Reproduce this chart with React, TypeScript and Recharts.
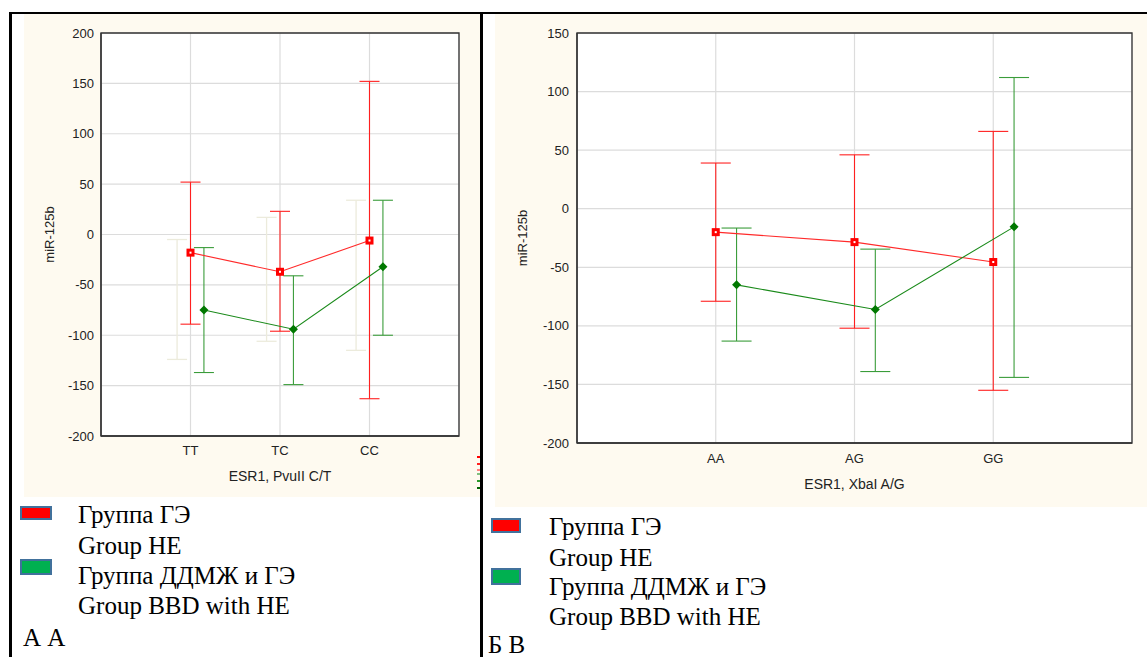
import React from 'react';
import {
  ScatterChart,
  Scatter,
  XAxis,
  YAxis,
  CartesianGrid,
  ErrorBar,
  ReferenceArea,
} from 'recharts';

// ---------- DATA ----------
const leftCategories = ['TT', 'TC', 'CC'];
const leftHEMean = [-18, -37, -6];
const leftHELow = [-89, -96, -163];
const leftHEHigh = [52, 23, 152];
const leftBBDMean = [-75, -94, -32];
const leftBBDLow = [-137, -149, -100];
const leftBBDHigh = [-13, -41, 34];
const leftExtraLow = [-124, -106, -115];
const leftExtraHigh = [-5, 17, 34];
const leftYTicks = [-200, -150, -100, -50, 0, 50, 100, 150, 200];

const rightCategories = ['AA', 'AG', 'GG'];
const rightHEMean = [-20, -28.5, -45.5];
const rightHELow = [-79, -102, -155];
const rightHEHigh = [39, 46, 66];
const rightBBDMean = [-65, -86, -15.5];
const rightBBDLow = [-113, -139, -144];
const rightBBDHigh = [-16.5, -34.5, 112];
const rightYTicks = [-200, -150, -100, -50, 0, 50, 100, 150];

const legendLabels = ['Группа ГЭ', 'Group HE', 'Группа ДДМЖ и ГЭ', 'Group BBD with HE'];

// ---------- STYLE ----------
const CREAM = '#fefaf0';
const SANS = "'Liberation Sans', Arial, sans-serif";
const SERIF = "'Liberation Serif', 'Times New Roman', 'DejaVu Serif', serif";
const RED_LINE = '#ff2a2a';
const RED_BAR = '#ff2020';
const GREEN_LINE = '#1a8a1a';
const GREEN_BAR = '#3a9c3a';
const SERIES_SHIFT = 0.15;

const build = (mean: number[], low: number[], high: number[], shift: number) =>
  mean.map((m, i) => ({ x: i + 1 + shift, y: m, err: [m - low[i], high[i] - m] }));

const buildRange = (low: number[], high: number[], shift: number) =>
  low.map((l, i) => {
    const c = (l + high[i]) / 2;
    return { x: i + 1 + shift, y: c, err: [c - l, high[i] - c] };
  });

const RedSquare = (p: any) => {
  const { cx, cy } = p;
  if (cx == null || cy == null) return null;
  return (
    <g>
      <rect x={cx - 4} y={cy - 4} width={8} height={8} fill="#ff0000" />
      <rect x={cx - 1} y={cy - 1} width={2} height={2} fill="#ffffff" />
    </g>
  );
};

const GreenDiamond = (p: any) => {
  const { cx, cy } = p;
  if (cx == null || cy == null) return null;
  return (
    <polygon
      points={`${cx},${cy - 4.5} ${cx + 4.5},${cy} ${cx},${cy + 4.5} ${cx - 4.5},${cy}`}
      fill="#007800"
    />
  );
};

const NoShape = () => <g />;

interface PanelProps {
  cats: string[];
  he: { x: number; y: number; err: number[] }[];
  bbd: { x: number; y: number; err: number[] }[];
  extra?: { x: number; y: number; err: number[] }[];
  yTicks: number[];
  width: number;
  height: number;
  yAxisWidth: number;
  xAxisHeight: number;
  marginTop: number;
  marginRight: number;
  xTitle: string;
  capWidth: number;
  yLabelOffset: number;
  xTickMargin: number;
  yTickMargin: number;
  xTitleOffset: number;
  titleSize: number;
}

const Panel = (p: PanelProps) => {
  const yMin = p.yTicks[0];
  const yMax = p.yTicks[p.yTicks.length - 1];
  return (
    <ScatterChart
      width={p.width}
      height={p.height}
      margin={{ top: p.marginTop, right: p.marginRight, bottom: 0, left: 0 }}
    >
      <CartesianGrid stroke="#dcdcdc" strokeWidth={1.2} fill="#ffffff" fillOpacity={1} />
      <XAxis
        type="number"
        dataKey="x"
        domain={[0, 4]}
        ticks={[1, 2, 3]}
        tickFormatter={(v: number) => p.cats[v - 1] ?? ''}
        height={p.xAxisHeight}
        tickLine={false}
        tickSize={0}
        tickMargin={p.xTickMargin}
        axisLine={{ stroke: '#333', strokeWidth: 1.3 }}
        tick={{ fontSize: 13, fill: '#222', fontFamily: SANS }}
        allowDataOverflow
        label={{
          value: p.xTitle,
          position: 'insideBottom',
          offset: p.xTitleOffset,
          style: { fontSize: p.titleSize, fill: '#222', fontFamily: SANS },
        }}
      />
      <YAxis
        type="number"
        dataKey="y"
        domain={[yMin, yMax]}
        ticks={p.yTicks}
        width={p.yAxisWidth}
        tickLine={false}
        tickSize={0}
        tickMargin={p.yTickMargin}
        axisLine={{ stroke: '#333', strokeWidth: 1.3 }}
        tick={{ fontSize: 13, fill: '#222', fontFamily: SANS }}
        allowDataOverflow
        label={{
          value: 'miR-125b',
          angle: -90,
          position: 'insideLeft',
          offset: p.yLabelOffset,
          style: { textAnchor: 'middle', fontSize: 13, fill: '#222', fontFamily: SANS },
        }}
      />
      <ReferenceArea
        x1={0}
        x2={4}
        y1={yMin}
        y2={yMax}
        fill="none"
        stroke="#333"
        strokeWidth={1.3}
        ifOverflow="visible"
      />
      {p.extra && (
        <Scatter data={p.extra} shape={NoShape} isAnimationActive={false}>
          <ErrorBar
            dataKey="err"
            direction="y"
            width={p.capWidth}
            stroke="#ecebdc"
            strokeWidth={1.3}
            isAnimationActive={false}
          />
        </Scatter>
      )}
      <Scatter
        data={p.he}
        shape={RedSquare}
        line={{ stroke: RED_LINE, strokeWidth: 1.1 }}
        isAnimationActive={false}
      >
        <ErrorBar
          dataKey="err"
          direction="y"
          width={p.capWidth}
          stroke={RED_BAR}
          strokeWidth={1.1}
          isAnimationActive={false}
        />
      </Scatter>
      <Scatter
        data={p.bbd}
        shape={GreenDiamond}
        line={{ stroke: GREEN_LINE, strokeWidth: 1.1 }}
        isAnimationActive={false}
      >
        <ErrorBar
          dataKey="err"
          direction="y"
          width={p.capWidth}
          stroke={GREEN_BAR}
          strokeWidth={1.1}
          isAnimationActive={false}
        />
      </Scatter>
    </ScatterChart>
  );
};

const LegendBlock = ({
  rx,
  redY,
  redH,
  greenY,
  greenH,
  rw,
  tx,
  baselines,
  panelLabel,
  px,
  fontSize,
}: any) => (
  <g>
    <rect x={rx} y={redY} width={rw} height={redH} fill="#ff0000" stroke="#41719c" strokeWidth={2} />
    <rect x={rx} y={greenY} width={rw} height={greenH} fill="#00b050" stroke="#41719c" strokeWidth={2} />
    {legendLabels.map((t, i) => (
      <text key={i} x={tx} y={baselines[i]} style={{ fontFamily: SERIF, fontSize, fill: '#000' }}>
        {t}
      </text>
    ))}
    <text x={px} y={baselines[4]} style={{ fontFamily: SERIF, fontSize, fill: '#000' }}>
      {panelLabel}
    </text>
  </g>
);

export default function App() {
  const leftHE = build(leftHEMean, leftHELow, leftHEHigh, 0);
  const leftBBD = build(leftBBDMean, leftBBDLow, leftBBDHigh, SERIES_SHIFT);
  const leftExtra = buildRange(leftExtraLow, leftExtraHigh, -SERIES_SHIFT);
  const rightHE = build(rightHEMean, rightHELow, rightHEHigh, 0);
  const rightBBD = build(rightBBDMean, rightBBDLow, rightBBDHigh, SERIES_SHIFT);

  return (
    <div
      style={{
        position: 'absolute',
        left: 0,
        top: 0,
        width: 1147,
        height: 657,
        background: '#ffffff',
        overflow: 'hidden',
      }}
    >
      {/* left panel */}
      <div style={{ position: 'absolute', left: 24, top: 14, width: 456, height: 483, background: CREAM }}>
        <Panel
          cats={leftCategories}
          he={leftHE}
          bbd={leftBBD}
          extra={leftExtra}
          yTicks={leftYTicks}
          width={456}
          height={483}
          yAxisWidth={77}
          xAxisHeight={61}
          marginTop={19}
          marginRight={21}
          xTitle="ESR1, PvuII C/T"
          capWidth={10}
          yLabelOffset={25}
          xTickMargin={10}
          yTickMargin={7}
          xTitleOffset={16}
          titleSize={14}
        />
      </div>
      {/* right panel */}
      <div style={{ position: 'absolute', left: 495, top: 14, width: 652, height: 493, background: CREAM }}>
        <Panel
          cats={rightCategories}
          he={rightHE}
          bbd={rightBBD}
          yTicks={rightYTicks}
          width={652}
          height={493}
          yAxisWidth={82}
          xAxisHeight={64}
          marginTop={19}
          marginRight={15}
          xTitle="ESR1, XbaI A/G"
          capWidth={15}
          yLabelOffset={27}
          xTickMargin={11}
          yTickMargin={8}
          xTitleOffset={18}
          titleSize={14}
        />
      </div>
      {/* small colored dashes at the left panel edge */}
      {['#ff0000', '#ff2020', '#ff8080', '#80c080', '#2a9a2a', '#006400'].map((c, i) => (
        <div
          key={i}
          style={{
            position: 'absolute',
            left: 477,
            top: [456, 463, 469, 473, 480, 487][i],
            width: 4,
            height: 1.5,
            background: c,
          }}
        />
      ))}
      {/* frame lines */}
      <div style={{ position: 'absolute', left: 9, top: 12, width: 1138, height: 2, background: '#000' }} />
      <div style={{ position: 'absolute', left: 9, top: 12, width: 3, height: 645, background: '#000' }} />
      <div style={{ position: 'absolute', left: 480, top: 12, width: 2.5, height: 645, background: '#000' }} />
      {/* legends */}
      <svg
        width={1147}
        height={657}
        style={{ position: 'absolute', left: 0, top: 0, pointerEvents: 'none' }}
      >
        <LegendBlock
          rx={21}
          redY={507}
          redH={12}
          greenY={560}
          greenH={14}
          rw={30}
          tx={78}
          baselines={[523, 554, 584, 614, 646]}
          panelLabel="А А"
          px={23}
          fontSize={25}
        />
        <LegendBlock
          rx={492}
          redY={519}
          redH={13}
          greenY={569}
          greenH={15}
          rw={28}
          tx={549}
          baselines={[535, 566, 595, 625, 653]}
          panelLabel="Б В"
          px={488}
          fontSize={25}
        />
      </svg>
    </div>
  );
}
